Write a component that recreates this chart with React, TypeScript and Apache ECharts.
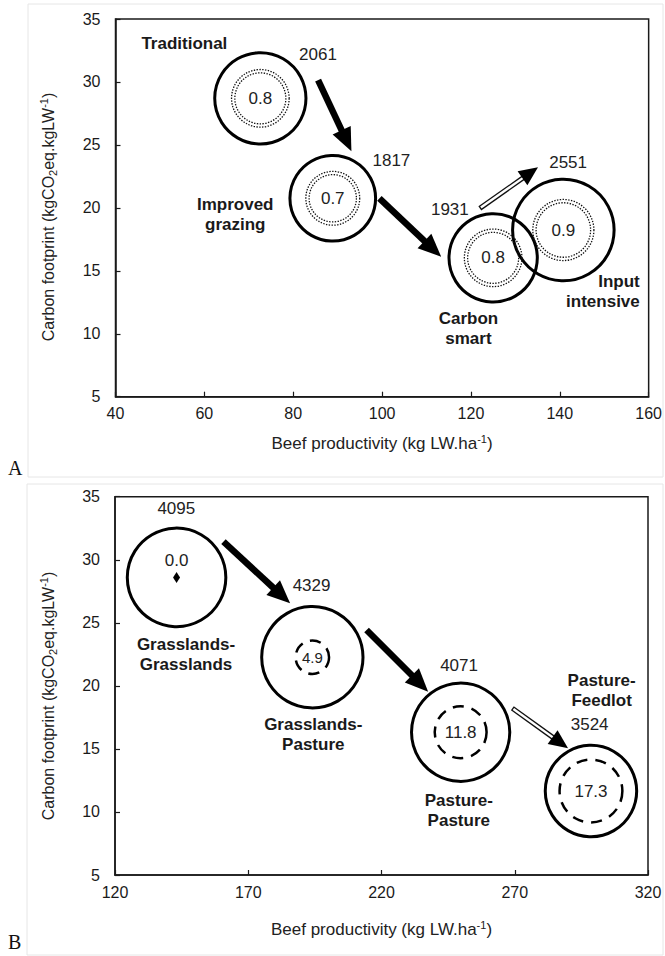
import React, { useEffect, useRef } from "react";
import * as echarts from "echarts";

const FONT = "'Liberation Sans', Arial, Helvetica, sans-serif";
const SERIF = "'Liberation Serif', 'Times New Roman', serif";

// ---------------- Panel A ----------------
const scenarioNamesA = ["Traditional", "Improved\ngrazing", "Carbon\nsmart", "Input\nintensive"];
const productivityA = [72.6, 88.9, 125.0, 140.8];
const footprintA = [28.7, 20.76, 16.03, 18.24];
const outerValuesA = [2061, 1817, 1931, 2551];
const innerValuesA = [0.8, 0.7, 0.8, 0.9];
// anchors (data units) of the scenario names and of the outer values
const nameAnchorsA = [[55.5, 33.07], [66.95, 19.45], [119.44, 10.39], [158.0, 13.34]];
const nameAlignA = ["center", "center", "center", "right"];
const valueAnchorsA = [[85.56, 32.22], [102.1, 23.75], [115.25, 19.83], [141.87, 23.59]];
// arrows: x1, y1, x2, y2, kind (0 solid, 1 hollow shaft)
const arrowsA = [
  [85.6, 30.15, 93.1, 24.5, 0],
  [99.4, 20.76, 113.3, 16.12, 0],
  [122.0, 19.96, 135.1, 23.22, 1],
];
const xRangeA = [40, 160, 20];
const yRangeA = [5, 35, 5];

// ---------------- Panel B ----------------
const scenarioNamesB = ["Grasslands-\nGrasslands", "Grasslands-\nPasture", "Pasture-\nPasture", "Pasture-\nFeedlot"];
const productivityB = [143.1, 194.05, 249.7, 298.6];
const footprintB = [28.6, 22.27, 16.32, 11.66];
const outerValuesB = [4095, 4329, 4071, 3524];
const innerValuesB = [0.0, 4.9, 11.8, 17.3];
const nameAnchorsB = [[146.65, 22.47], [194.4, 16.18], [249.0, 10.15], [302.6, 19.67]];
const nameAlignB = ["center", "center", "center", "center"];
const valueAnchorsB = [[143.0, 34.08], [193.75, 27.92], [249.1, 21.65], [298.1, 16.97]];
const arrowsB = [
  [160.7, 31.43, 185.7, 26.55, 0],
  [214.4, 24.43, 237.5, 19.54, 0],
  [269.1, 18.22, 290.0, 15.05, 1],
];
const xRangeB = [120, 320, 50];
const yRangeB = [5, 35, 5];

const X_NAME = "Beef productivity (kg LW.ha{sup|-1})";
const Y_NAME = "Carbon footprint (kgCO{sub|2}eq.kgLW{sup|-1})";

const richSS = {
  sub: { fontSize: 11, fontFamily: FONT, color: "#222", fill: "#222", verticalAlign: "bottom", lineHeight: 20 },
  sup: { fontSize: 11, fontFamily: FONT, color: "#222", fill: "#222", verticalAlign: "top", lineHeight: 20 },
};

function axes(gi: number, xr: number[], yr: number[], xGap: number) {
  const line = { show: true, lineStyle: { color: "#1a1a1a", width: 1.5 } };
  const tick = { show: true, inside: true, length: 5, lineStyle: { color: "#1a1a1a", width: 1.2 } };
  const x = {
    type: "value", gridIndex: gi, min: xr[0], max: xr[1], interval: xr[2],
    axisLine: line, axisTick: tick, splitLine: { show: false },
    axisLabel: { fontSize: 16, color: "#1a1a1a", fontFamily: FONT, margin: 9 },
    name: X_NAME, nameLocation: "middle", nameGap: xGap,
    nameTextStyle: { fontSize: 17, color: "#222", fontFamily: FONT, lineHeight: 20, rich: richSS },
  };
  const y = {
    type: "value", gridIndex: gi, min: yr[0], max: yr[1], interval: yr[2],
    axisLine: line, axisTick: tick, splitLine: { show: false },
    axisLabel: { fontSize: 16, color: "#1a1a1a", fontFamily: FONT, margin: 15 },
  };
  return { x, y };
}

function yTitle(cy: number) {
  return {
    type: "text", x: 48, y: cy, rotation: Math.PI / 2, silent: true,
    style: {
      text: Y_NAME, font: `16px ${FONT}`, fill: "#222", align: "center", verticalAlign: "middle",
      lineHeight: 20, rich: richSS,
    },
  };
}

function arrowSeries(gi: number, arrows: number[][]) {
  return {
    type: "custom", xAxisIndex: gi, yAxisIndex: gi, silent: true, clip: false, z: 5,
    encode: { x: [0, 2], y: [1, 3] },
    data: arrows,
    renderItem: (_p: any, api: any) => {
      const p1 = api.coord([api.value(0), api.value(1)]);
      const p2 = api.coord([api.value(2), api.value(3)]);
      const hollow = api.value(4) === 1;
      const dx = p2[0] - p1[0], dy = p2[1] - p1[1];
      const len = Math.hypot(dx, dy);
      const ux = dx / len, uy = dy / len;
      const nx = -uy, ny = ux;
      const headLen = hollow ? 19 : 23;
      const half = hollow ? 8.5 : 10;
      const bx = p2[0] - ux * headLen, by = p2[1] - uy * headLen;
      const children: any[] = [];
      if (hollow) {
        children.push({ type: "line", shape: { x1: p1[0], y1: p1[1], x2: bx + ux * 2, y2: by + uy * 2 }, style: { stroke: "#111", lineWidth: 5 } });
        children.push({ type: "line", shape: { x1: p1[0] + ux * 1.3, y1: p1[1] + uy * 1.3, x2: bx + ux * 2, y2: by + uy * 2 }, style: { stroke: "#fff", lineWidth: 2.4 } });
      } else {
        children.push({ type: "line", shape: { x1: p1[0], y1: p1[1], x2: bx + ux * 2, y2: by + uy * 2 }, style: { stroke: "#000", lineWidth: 6.5 } });
      }
      children.push({
        type: "polygon",
        shape: { points: [[p2[0], p2[1]], [bx + nx * half, by + ny * half], [bx - nx * half, by - ny * half]] },
        style: { fill: "#000" },
      });
      return { type: "group", children };
    },
  };
}

function annotationSeries(gi: number, names: string[], anchors: number[][], aligns: string[], values: number[], valueAnchors: number[][]) {
  const data: any[] = [];
  names.forEach((n, i) => {
    data.push({ name: n, value: anchors[i], label: { align: aligns[i], fontWeight: "bold", color: "#1a1a1a", lineHeight: 20 } });
  });
  values.forEach((v, i) => {
    data.push({ name: String(v), value: valueAnchors[i], label: { fontWeight: "normal", color: "#222" } });
  });
  return {
    type: "scatter", xAxisIndex: gi, yAxisIndex: gi, silent: true, z: 6,
    symbol: "circle", symbolSize: 1, itemStyle: { color: "rgba(0,0,0,0)", opacity: 1 },
    emphasis: { disabled: true },
    label: { show: true, position: "inside", formatter: "{b}", fontSize: 17, fontFamily: FONT, opacity: 1 },
    data,
  };
}

function outerSeries(gi: number, xs: number[], ys: number[], vs: number[], k: number) {
  return {
    type: "scatter", xAxisIndex: gi, yAxisIndex: gi, silent: true, z: 3,
    symbol: "circle",
    symbolSize: (v: number[]) => 2 * k * Math.sqrt(v[2]),
    itemStyle: { color: "rgba(0,0,0,0)", borderColor: "#000", borderWidth: 3, opacity: 1 },
    emphasis: { disabled: true },
    data: xs.map((x, i) => [x, ys[i], vs[i]]),
  };
}

export default function App() {
  const ref = useRef<HTMLDivElement>(null);
  useEffect(() => {
    if (!ref.current) return;
    const chart = echarts.init(ref.current, undefined, { renderer: "svg" });
    const a = axes(0, xRangeA, yRangeA, 37);
    const b = axes(1, xRangeB, yRangeB, 44);
    const kOuterA = 1.005, kInnerA = 32.2;
    const kOuterB = 0.77, kInnerB = 7.55;

    const innerLabel = { show: true, position: "inside", fontSize: 17, color: "#222", fontFamily: FONT, opacity: 1,
      formatter: (p: any) => p.value[2].toFixed(1) };

    const option: any = {
      animation: false,
      backgroundColor: "#fff",
      grid: [
        { left: 115.5, top: 19, width: 533.5, height: 377.7, show: true, borderColor: "#1a1a1a", borderWidth: 1.5, backgroundColor: "transparent" },
        { left: 115, top: 496.7, width: 533, height: 378.3, show: true, borderColor: "#1a1a1a", borderWidth: 1.5, backgroundColor: "transparent" },
      ],
      xAxis: [a.x, b.x],
      yAxis: [a.y, b.y],
      graphic: [
        { type: "rect", shape: { x: 28, y: 4, width: 635, height: 473 }, style: { fill: "none", stroke: "#e6e6e6", lineWidth: 1 }, silent: true },
        { type: "rect", shape: { x: 27, y: 484, width: 636, height: 471 }, style: { fill: "none", stroke: "#e6e6e6", lineWidth: 1 }, silent: true },
        { type: "text", x: 8, y: 468, style: { text: "A", font: `20px ${SERIF}`, fill: "#111", verticalAlign: "middle" } },
        { type: "text", x: 8, y: 942, style: { text: "B", font: `20px ${SERIF}`, fill: "#111", verticalAlign: "middle" } },
        yTitle(217),
        yTitle(696),
      ],
      series: [
        // Panel A
        outerSeries(0, productivityA, footprintA, outerValuesA, kOuterA),
        {
          type: "scatter", xAxisIndex: 0, yAxisIndex: 0, silent: true, z: 3, symbol: "circle",
          symbolSize: (v: number[]) => 2 * kInnerA * Math.sqrt(v[2]),
          itemStyle: { color: "rgba(0,0,0,0)", borderColor: "#111", borderWidth: 1.3, borderType: [1.4, 1.4], opacity: 1 },
          emphasis: { disabled: true },
          label: innerLabel,
          data: productivityA.map((x, i) => [x, footprintA[i], innerValuesA[i]]),
        },
        {
          type: "scatter", xAxisIndex: 0, yAxisIndex: 0, silent: true, z: 3, symbol: "circle",
          symbolSize: (v: number[]) => 2 * (kInnerA * Math.sqrt(v[2]) - 3.3),
          itemStyle: { color: "rgba(0,0,0,0)", borderColor: "#111", borderWidth: 1.3, borderType: [1.4, 1.4], opacity: 1 },
          emphasis: { disabled: true },
          data: productivityA.map((x, i) => [x, footprintA[i], innerValuesA[i]]),
        },
        arrowSeries(0, arrowsA),
        annotationSeries(0, scenarioNamesA, nameAnchorsA, nameAlignA, outerValuesA, valueAnchorsA),
        // Panel B
        outerSeries(1, productivityB, footprintB, outerValuesB, kOuterB),
        {
          type: "scatter", xAxisIndex: 1, yAxisIndex: 1, silent: true, z: 3, symbol: "circle",
          symbolSize: (v: number[]) => 2 * kInnerB * Math.sqrt(v[2]),
          itemStyle: { color: "rgba(0,0,0,0)", borderColor: "#000", borderWidth: 2.5, borderType: [11, 8], opacity: 1 },
          emphasis: { disabled: true },
          label: innerLabel,
          data: productivityB.map((x, i) => {
            const v = innerValuesB[i];
            if (v === 0) {
              return { value: [x, footprintB[i], v], symbol: "diamond", symbolSize: [7, 11],
                itemStyle: { color: "#000", borderWidth: 0 }, label: { offset: [0, -17] } };
            }
            if (v < 6) return { value: [x, footprintB[i], v], label: { fontSize: 15 } };
            return [x, footprintB[i], v];
          }),
        },
        arrowSeries(1, arrowsB),
        annotationSeries(1, scenarioNamesB, nameAnchorsB, nameAlignB, outerValuesB, valueAnchorsB),
      ],
    };
    chart.setOption(option);
    return () => chart.dispose();
  }, []);
  return <div ref={ref} style={{ position: "fixed", left: 0, top: 0, width: 665, height: 956, background: "#fff" }} />;
}
